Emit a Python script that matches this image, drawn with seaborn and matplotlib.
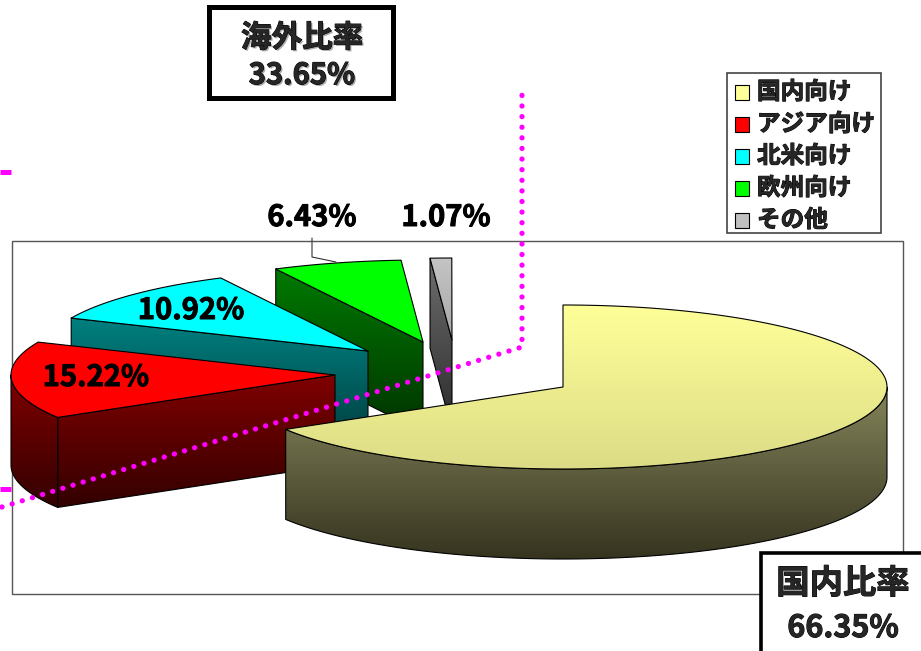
import numpy as np
import matplotlib
matplotlib.use('Agg')
import matplotlib.pyplot as plt
import seaborn as sns
from matplotlib.patches import Polygon, Rectangle
from matplotlib.colors import to_rgb
import matplotlib.patheffects as pe

# ---------------- data ----------------
categories = ['国内向け', 'アジア向け', '北米向け', '欧州向け', 'その他']
shares = [66.35, 15.22, 10.92, 6.43, 1.07]
share_labels = ['', '15.22%', '10.92%', '6.43%', '1.07%']
domestic_label = ['国内比率', '66.35%']
overseas_label = ['海外比率', '33.65%']

# ---------------- styles ----------------
top_hi = ['#FFFF99', '#FF0000', '#00FFFF', '#00FF00', '#C4C4C4']
top_lo = ['#DCDC86', '#FF0000', '#00FFFF', '#00FF00', '#A8A8A8']
wall_hi = ['#84845B', '#800000', '#008080', '#007A00', '#6E6E6E']
wall_lo = ['#36341F', '#330000', '#004040', '#003300', '#2A2A2A']
legend_colors = ['#FFFF99', '#FF0000', '#00FFFF', '#00FF00', '#C0C0C0']

sns.set_theme(style='white')
plt.rcParams['font.family'] = ['Noto Sans CJK JP', 'DejaVu Sans']

fig = plt.figure(figsize=(9.21, 6.51), dpi=100)
ax = fig.add_axes([0, 0, 1, 1])
ax.set_xlim(0, 921)
ax.set_ylim(651, 0)
ax.axis('off')

# layout of 3-D pie (pixel space)
CX, CY = 563, 387
A, B, DEPTH = 324, 82, 90
explode = [(0, 0), (-228, -12), (-195, -36), (-140, -45), (-111, -47)]

zc = [1]


def grad_poly(verts, c1, c2, lw=0.8):
    verts = np.asarray(verts)
    z = zc[0]
    zc[0] += 1
    poly = Polygon(verts, closed=True, facecolor='none', edgecolor='black',
                   linewidth=lw, zorder=z + 0.5, joinstyle='round')
    ax.add_patch(poly)
    x0, y0 = verts.min(0)
    x1, y1 = verts.max(0)
    t = np.linspace(0, 1, 128)[:, None]
    col = (1 - t) * np.array(to_rgb(c1)) + t * np.array(to_rgb(c2))
    im = ax.imshow(col[:, None, :], extent=[x0, x1, y1, y0], origin='upper',
                   aspect='auto', zorder=z, interpolation='bilinear')
    im.set_clip_path(poly)


def pt(cx, cy, th, dy=0):
    r = np.deg2rad(th)
    return np.column_stack([cx + A * np.cos(r), cy - B * np.sin(r) + dy])


# angles: start at 12 o'clock, clockwise
cum = np.concatenate([[0], np.cumsum(shares)])
th_hi = 90 - 3.6 * cum[:-1]
th_lo = 90 - 3.6 * cum[1:]

order = [4, 3, 2, 1, 0]  # back to front
for i in order:
    cx, cy = CX + explode[i][0], CY + explode[i][1]
    lo, hi = th_lo[i], th_hi[i]
    # radial faces
    faces = []
    if np.cos(np.deg2rad(lo)) > 1e-6:
        faces.append(lo)
    if np.cos(np.deg2rad(hi)) < -1e-6:
        faces.append(hi)
    for th in faces:
        p = pt(cx, cy, th)[0]
        v = [(cx, cy), p, (p[0], p[1] + DEPTH), (cx, cy + DEPTH)]
        grad_poly(v, wall_hi[i], wall_lo[i])
    # front curved wall
    ths = np.linspace(lo, hi, 600)
    front = np.sin(np.deg2rad(ths)) < 0
    runs = []
    cur = []
    for th, f in zip(ths, front):
        if f:
            cur.append(th)
        elif cur:
            runs.append(cur)
            cur = []
    if cur:
        runs.append(cur)
    for run in runs:
        if len(run) < 2:
            continue
        topc = pt(cx, cy, np.array(run))
        botc = pt(cx, cy, np.array(run), DEPTH)[::-1]
        grad_poly(np.vstack([topc, botc]), wall_hi[i], wall_lo[i])
    # top face
    arc = pt(cx, cy, np.linspace(lo, hi, 300))
    grad_poly(np.vstack([[cx, cy], arc]), top_hi[i], top_lo[i])

ax.set_xlim(0, 921)
ax.set_ylim(651, 0)

# plot area border
ax.add_patch(Rectangle((12, 241), 891, 353, fill=False, edgecolor='#555555',
                       linewidth=1.0, zorder=0.2))

heavy = [pe.withStroke(linewidth=0.7, foreground='black')]

# slice labels
lab_pos = {1: (96, 377), 2: (191, 310), 3: (312, 217), 4: (446, 217)}
for i, (x, y) in lab_pos.items():
    ax.text(x, y, share_labels[i], ha='center', va='center', fontsize=21,
            fontweight='bold', color='black', zorder=80, path_effects=heavy)
ax.plot([312, 312, 336], [238, 257, 262], color='#333333', lw=0.8, zorder=79)

# magenta guide lines
mag = '#FF00FF'
ax.plot([2, 522, 522], [507, 347, 91], color=mag, lw=3.8,
        linestyle=(0, (0.01, 2.0)), dash_capstyle='round', zorder=70)
ax.plot([0, 11], [172, 172], color=mag, lw=3.6, solid_capstyle='butt', zorder=70)
ax.plot([0, 11], [489, 489], color=mag, lw=3.6, solid_capstyle='butt', zorder=70)

shadow = [pe.SimplePatchShadow(offset=(1.2, -1.2), shadow_rgbFace='#999999', alpha=0.8),
          pe.withStroke(linewidth=0.7, foreground='black')]

# overseas ratio box
ax.add_patch(Rectangle((209, 7), 184, 91, facecolor='white', edgecolor='black',
                       linewidth=3.6, zorder=90))
ax.text(302, 38, overseas_label[0], ha='center', va='center', fontsize=22,
        fontweight='bold', zorder=91, path_effects=shadow)
ax.text(302, 75, overseas_label[1], ha='center', va='center', fontsize=21,
        fontweight='bold', zorder=91, path_effects=shadow)

# domestic ratio box
ax.add_patch(Rectangle((761, 553), 200, 140, facecolor='white', edgecolor='black',
                       linewidth=2.6, zorder=90))
ax.text(843, 584, domestic_label[0], ha='center', va='center', fontsize=24,
        fontweight='bold', zorder=91, path_effects=heavy)
ax.text(843, 628, domestic_label[1], ha='center', va='center', fontsize=22,
        fontweight='bold', zorder=91, path_effects=heavy)

# legend
ax.add_patch(Rectangle((727, 73), 154, 160, facecolor='white', edgecolor='#444444',
                       linewidth=1.2, zorder=85))
for k, (name, c) in enumerate(zip(categories, legend_colors)):
    y = 92 + k * 32
    ax.add_patch(Rectangle((735, y - 7.5), 14, 15, facecolor=c, edgecolor='black',
                           linewidth=0.8, zorder=86))
    ax.text(757, y, name, ha='left', va='center', fontsize=17, fontweight='bold',
            zorder=86, path_effects=heavy)

fig.savefig('out.png', dpi=100)
